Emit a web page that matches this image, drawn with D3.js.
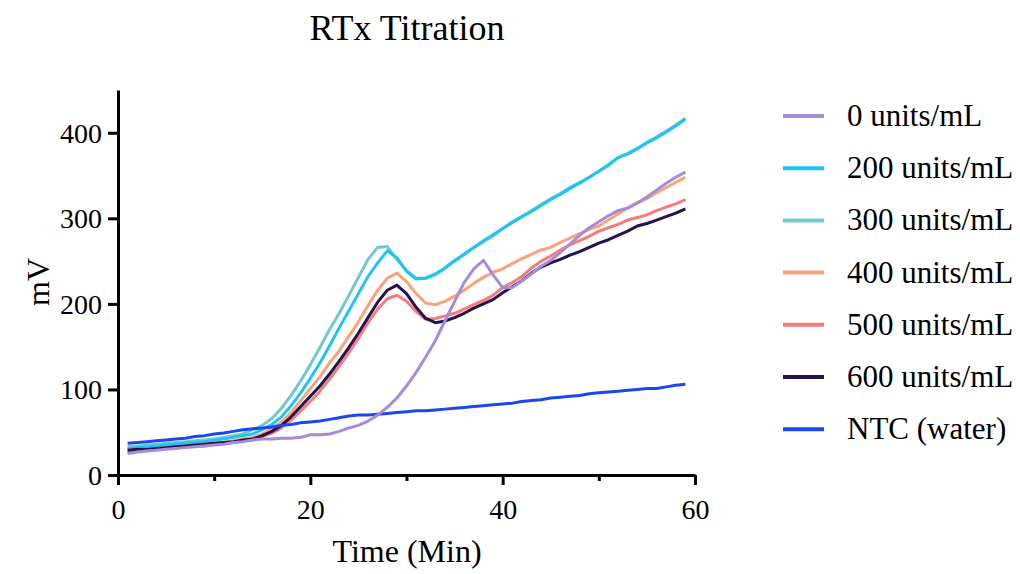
<!DOCTYPE html>
<html lang="en">
<head>
<meta charset="UTF-8" />
<title>RTx Titration</title>
<style>
  body { margin: 0; background: #fff; }
  svg text { font-family: "Liberation Serif", "Times New Roman", serif; fill: #000; }
</style>
</head>
<body>
<script src="https://cdn.jsdelivr.net/npm/d3@7"></script>
<div id="app"></div>
<script>
// time points (min)
const time = [1,2,3,4,5,6,7,8,9,10,11,12,13,14,15,16,17,18,19,20,21,22,23,24,25,26,27,28,29,30,
  31,32,33,34,35,36,37,38,39,40,41,42,43,44,45,46,47,48,49,50,51,52,53,54,55,56,57,58,59];

// mV readings, one array per series
const units0 = [25,27,28,29,30,31,32,33,34,35,36,38,39,41,42,42,43,43,44,47,47,48,51,55,58,63,70,79,90,104,
  120,138,157,180,203,225,241,251,234,219,219,227,235,244,251,260,270,280,289,296,303,309,312,318,325,333,341,348,354];
const units200 = [31,32,33,34,35,36,37,38,39,41,42,44,46,48,53,59,68,81,96,113,131,151,172,192,212,232,248,262,254,238,
  229,230,235,242,250,258,266,273,280,288,295,302,308,315,322,328,335,341,348,355,362,371,375,381,388,394,401,408,416];
const units300 = [33,34,35,36,37,38,39,40,41,42,44,46,48,53,58,66,78,93,110,129,149,170,189,210,231,252,266,267,252,239,
  230,230,234,242,251,258,266,274,281,288,296,302,309,316,323,329,336,342,348,355,363,371,376,382,389,395,402,409,417];
const units400 = [29,30,31,31,32,33,34,35,36,37,38,40,42,44,48,54,62,73,87,101,115,131,145,162,179,198,216,230,236,226,
  212,201,199,203,209,216,224,231,237,241,247,253,258,263,266,272,277,282,287,291,298,305,312,318,323,330,336,342,348];
const units500 = [27,28,29,30,31,32,33,34,34,36,37,38,40,41,45,49,55,64,75,86,98,112,127,143,160,178,194,206,210,203,
  191,182,183,186,189,194,199,204,210,219,225,232,242,250,256,263,269,274,279,285,289,293,298,301,304,309,313,317,322];
const units600 = [29,30,30,31,32,33,34,35,36,37,38,39,41,42,46,51,58,68,80,92,104,118,133,149,166,184,202,216,222,212,
  196,183,178,180,184,189,195,200,205,213,220,227,236,243,248,252,257,261,266,271,275,280,285,291,294,298,302,306,311];
const ntc = [37,38,39,40,41,42,43,45,46,48,49,51,53,54,55,56,58,59,61,62,63,65,67,69,70,70,71,72,73,74,
  75,75,76,77,78,79,80,81,82,83,84,86,87,88,90,91,92,93,95,96,97,98,99,100,101,101,103,105,106];

const seriesNames = ["0 units/mL","200 units/mL","300 units/mL","400 units/mL","500 units/mL","600 units/mL","NTC (water)"];
const seriesValues = [units0, units200, units300, units400, units500, units600, ntc];
const seriesColors = ["#a68bd9","#1ec4f6","#70c9cb","#f9a27b","#f67b7b","#25124f","#1848ee"];
const drawOrder = [2, 1, 3, 4, 5, 6, 0];

const xTicks = [0, 20, 40, 60];
const xMinor = [10, 30, 50];
const yTicks = [0, 100, 200, 300, 400];

//Canvas
const W = 1020, H = 574;
const svg = d3.select("#app").append("svg")
  .attr("width", W).attr("height", H);

const x = d3.scaleLinear().domain([0, 60]).range([118, 695]);
const y = d3.scaleLinear().domain([0, 450]).range([475, 90]);

//Lines
const line = d3.line()
  .x((d, i) => x(time[i]))
  .y(d => y(d));

drawOrder.forEach(k => {
  svg.append("path")
    .datum(seriesValues[k])
    .attr("fill", "none")
    .attr("stroke", seriesColors[k])
    .attr("stroke-width", 3)
    .attr("stroke-linejoin", "round")
    .attr("d", line);
});

//Axes
const xAxis = svg.append("g")
  .attr("transform", "translate(0," + y(0) + ")")
  .call(d3.axisBottom(x).tickValues(xTicks).tickSize(10).tickSizeOuter(0).tickPadding(14));
xAxis.selectAll(".tick")
  .data(xMinor).enter();
svg.append("g")
  .attr("transform", "translate(0," + y(0) + ")")
  .call(d3.axisBottom(x).tickValues(xMinor).tickSize(6).tickSizeOuter(0).tickFormat(""))
  .select(".domain").remove();

const yAxis = svg.append("g")
  .attr("transform", "translate(" + x(0) + ",0)")
  .call(d3.axisLeft(y).tickValues(yTicks).tickSize(10).tickSizeOuter(0).tickPadding(6));

svg.selectAll(".domain, .tick line")
  .attr("stroke", "#000")
  .attr("stroke-width", 3);
svg.selectAll(".tick text")
  .style("font-size", "28px")
  .style("font-family", "'Liberation Serif', 'Times New Roman', serif")
  .attr("fill", "#000");
yAxis.selectAll(".tick text").attr("dy", "0.34em");

//Titles
svg.append("text")
  .attr("x", 407).attr("y", 40)
  .attr("text-anchor", "middle")
  .style("font-size", "36px")
  .text("RTx Titration");

svg.append("text")
  .attr("x", 407).attr("y", 562)
  .attr("text-anchor", "middle")
  .style("font-size", "32px")
  .text("Time (Min)");

svg.append("text")
  .attr("transform", "translate(49," + 282 + ") rotate(-90)")
  .attr("text-anchor", "middle")
  .style("font-size", "32px")
  .text("mV");

//Legend
const legend = svg.append("g").attr("transform", "translate(783,116)");
const item = legend.selectAll("g")
  .data(seriesNames)
  .enter()
  .append("g")
  .attr("transform", (d, i) => "translate(0," + i * 52.2 + ")");
item.append("line")
  .attr("x1", 0).attr("x2", 41)
  .attr("y1", 0).attr("y2", 0)
  .attr("stroke", (d, i) => seriesColors[i])
  .attr("stroke-width", 4);
item.append("text")
  .attr("x", 64).attr("y", 10)
  .style("font-size", "31px")
  .text(d => d);
</script>
</body>
</html>
